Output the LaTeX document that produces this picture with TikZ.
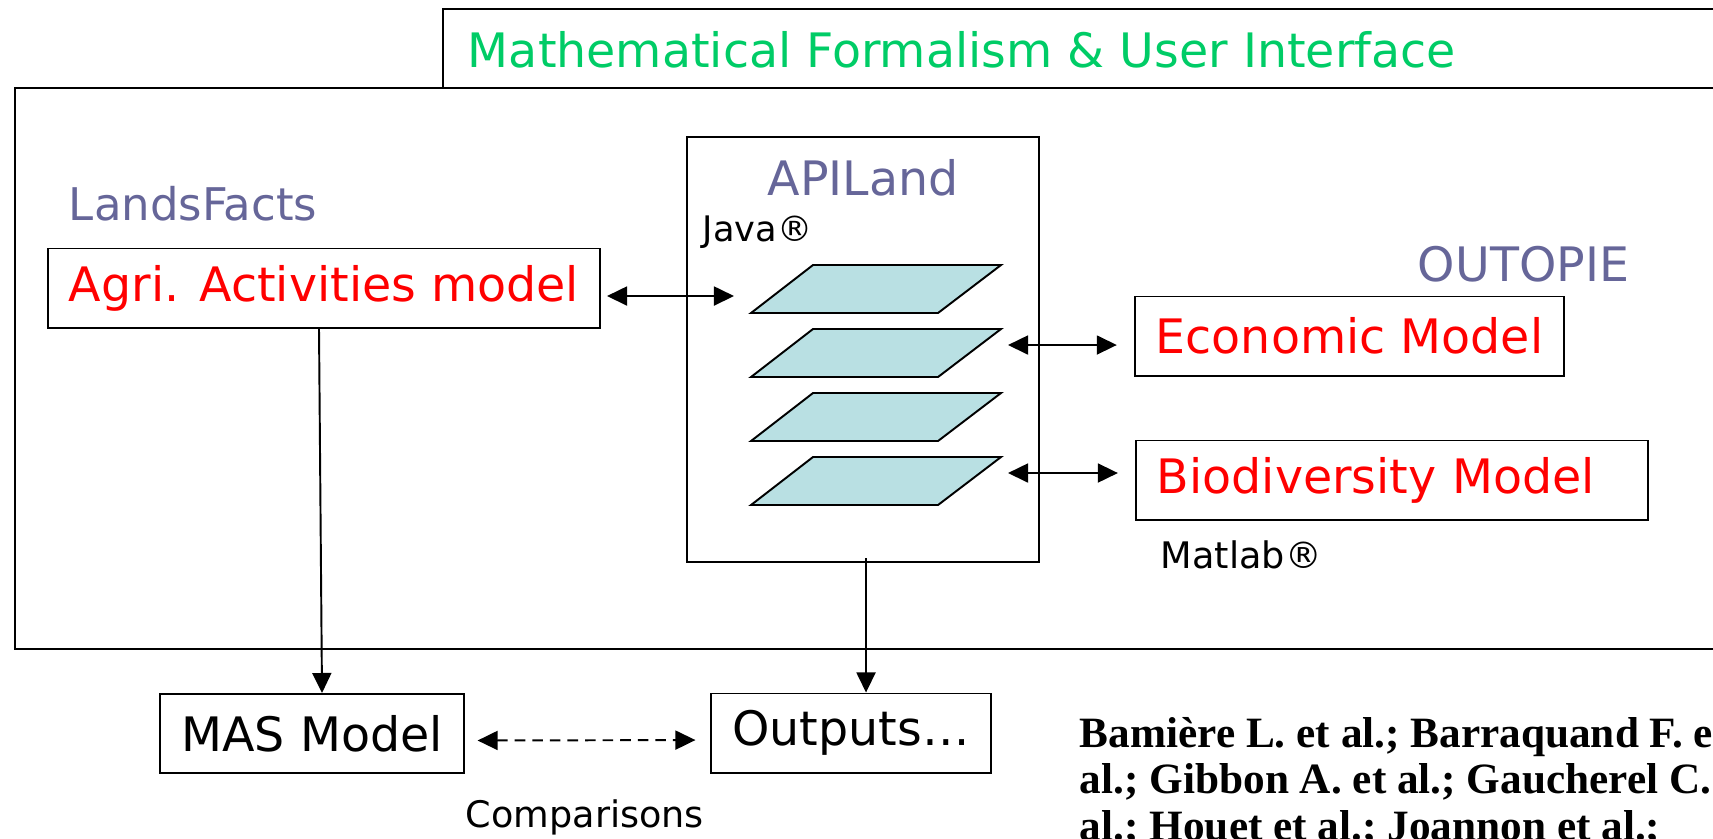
\documentclass[tikz,border=0pt]{standalone}
\usepackage{fontspec}
\setmainfont{DejaVu Sans}
\newfontfamily\citefont{Liberation Serif}
\usetikzlibrary{arrows.meta, positioning}
\definecolor{slate}{RGB}{102,102,153}
\definecolor{titlegreen}{RGB}{0,204,102}
\definecolor{layerblue}{RGB}{185,224,227}

\begin{document}
\begin{tikzpicture}[x=0.01cm, y=-0.01cm, line width=0.55pt,
        >={Triangle[length=5.7pt,width=5.4pt]},
        big/.style={font=\fontsize{13.5}{16}\selectfont},
        small/.style={font=\fontsize{10.4}{12}\selectfont},
        box/.style={draw, big, minimum height=0.79cm, inner xsep=0.21cm, inner ysep=0pt},
        label/.style={inner sep=0pt, anchor=west}]
    \useasboundingbox (0,0) rectangle (1713,838);
    \clip (0,0) rectangle (1713,838);
    % frames
    \draw (443,9) rectangle (1730,88);
    \draw (15,88) rectangle (1730,649);
    \node[label, big, text=titlegreen] (title) at (467,50) {Mathematical Formalism \& User Interface};
    % APILand and its layers
    \node[draw, minimum width=3.52cm, minimum height=4.25cm] (api) at (863,349.5) {};
    \node[big, text=slate, inner sep=0pt] (apiname) at (863,178) {APILand};
    \node[label, small, font=\fontsize{10}{12}\selectfont] (java) at (702,232) {Java®};
    \foreach \y [count=\i] in {265,329,393,457} {
        \draw[fill=layerblue] (751,\y+48) -- ++(62,-48) -- ++(188,0) -- ++(-63,48) -- cycle;
        \coordinate (layer\i) at (1008,\y+16);
    }
    \coordinate (layerL) at (734,296);
    % models
    \node[label, text=slate, font=\fontsize{12.8}{15}\selectfont] (lands) at (68,204) {LandsFacts};
    \node[box, text=red] (agri) at (324,288) {Agri. Activities model};
    \node[label, big, text=slate] (outopie) at (1417,264) {OUTOPIE};
    \node[box, text=red] (econ) at (1349.5,336) {Economic Model};
    \node[box, text=red, text width=4.70cm, align=left] (bio) at (1392,480) {Biodiversity Model};
    \node[label, small] (matlab) at (1160,555) {Matlab®};
    \node[box] (mas) at (312,733.5) {MAS Model};
    \node[box] (outputs) at (851,733) {Outputs…};
    \node[small, inner sep=0pt] (comp) at (585,817) {Comparisons};
    % links
    \draw[<->, shorten <=0.06cm] (agri.east |- layerL) -- (layerL);
    \draw[<->, shorten >=0.17cm] (layer2) -- (layer2 -| econ.west);
    \draw[<->, shorten >=0.17cm] (layer4) -- (layer4 -| bio.west);
    \draw[->] ([xshift=-0.05cm]agri.south) -- ([xshift=0.1cm]mas.north);
    \draw[->] ([xshift=0.03cm,yshift=0.05cm]api.south) -- ([xshift=0.15cm]outputs.north);
    \draw[<->, dash pattern=on 3pt off 2pt, shorten <=0.13cm, shorten >=0.15cm]
        ([yshift=-0.07cm]mas.east) -- ([yshift=-0.07cm]outputs.west);
    % references
    \node[anchor=base west, inner sep=0pt, align=left,
        font=\citefont\bfseries\fontsize{12.3}{13.1}\selectfont] (refs) at (1079,840)
        {Bamière L. et al.; Barraquand F. et\\al.; Gibbon A. et al.; Gaucherel C. et\\al.; Houet et al.; Joannon et al.;};
\end{tikzpicture}
\end{document}
